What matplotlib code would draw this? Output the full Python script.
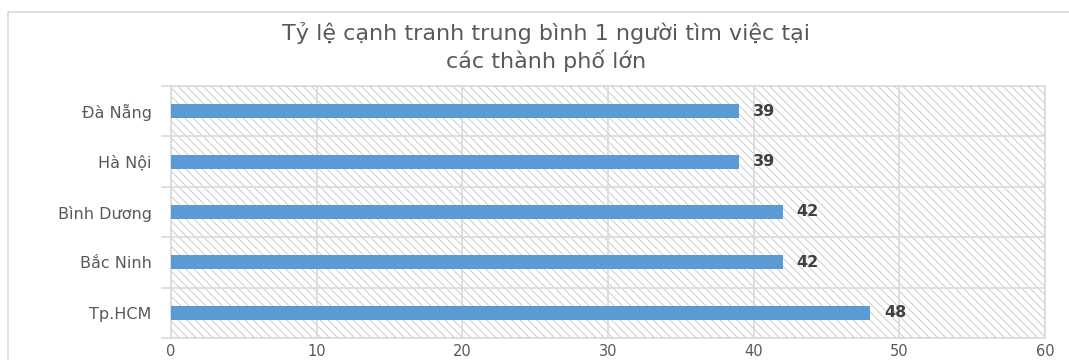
import matplotlib
matplotlib.use('Agg')
import matplotlib.pyplot as plt
from matplotlib.patches import Rectangle
import numpy as np

# data (top to bottom as shown in the chart)
cities = ['Đà Nẵng', 'Hà Nội', 'Bình Dương', 'Bắc Ninh', 'Tp.HCM']
rates = [39, 39, 42, 42, 48]
x_ticks = [0, 10, 20, 30, 40, 50, 60]
title_lines = ['Tỷ lệ cạnh tranh trung bình 1 người tìm việc tại',
               'các thành phố lớn']

BAR = '#5B9BD5'
GRID = '#d9d9d9'
TXT = '#595959'

plt.rcParams['hatch.linewidth'] = 0.6

fig = plt.figure(figsize=(10.69, 3.6), dpi=100)
W, H = 1069, 360
ax = fig.add_axes([171 / W, 1 - 338 / H, (1045 - 171) / W, (338 - 86) / H])

# hatched plot area
ax.add_patch(Rectangle((0, 0), 1, 1, transform=ax.transAxes, fill=False,
                       hatch='\\\\\\\\', edgecolor='#c4c4c4', lw=0, zorder=0))

# outer chart border
fig.add_artist(Rectangle((8 / W, -0.1), 1.2, (H - 12) / H + 0.1,
                         transform=fig.transFigure, fill=False,
                         edgecolor=GRID, lw=1.2))

y = np.arange(len(cities))[::-1]
ax.barh(y, rates, height=0.28, color=BAR, zorder=3)
for yi, v in zip(y, rates):
    ax.annotate(str(v), (v, yi), xytext=(10, 0), textcoords='offset points',
                ha='left', va='center', fontsize=11.5, fontweight='bold',
                color='#404040', zorder=4)

ax.set_xlim(0, 60)
ax.set_ylim(-0.5, len(cities) - 0.5)
ax.set_xticks(x_ticks)
ax.set_xticklabels([str(t) for t in x_ticks], fontsize=10.5, color=TXT)
ax.set_yticks(y)
ax.set_yticklabels(cities, fontsize=11.5, color=TXT)
ax.set_yticks(np.arange(-0.5, len(cities), 1), minor=True)

ax.tick_params(axis='x', length=0, pad=4)
ax.tick_params(axis='y', which='major', length=0, pad=14)
ax.tick_params(axis='y', which='minor', length=7, color=GRID, width=1.2)

ax.grid(axis='x', color=GRID, lw=1.2, zorder=1)
ax.grid(axis='y', which='minor', color=GRID, lw=1.2, zorder=1)
ax.set_axisbelow(True)
for s in ax.spines.values():
    s.set_color(GRID)
    s.set_linewidth(1.2)

fig.text(546 / W, 1 - 40 / H, title_lines[0], ha='center', va='baseline',
         fontsize=16, color=TXT)
fig.text(546 / W, 1 - 68 / H, title_lines[1], ha='center', va='baseline',
         fontsize=16, color=TXT)

fig.savefig('out.png', dpi=100)
plt.close(fig)
